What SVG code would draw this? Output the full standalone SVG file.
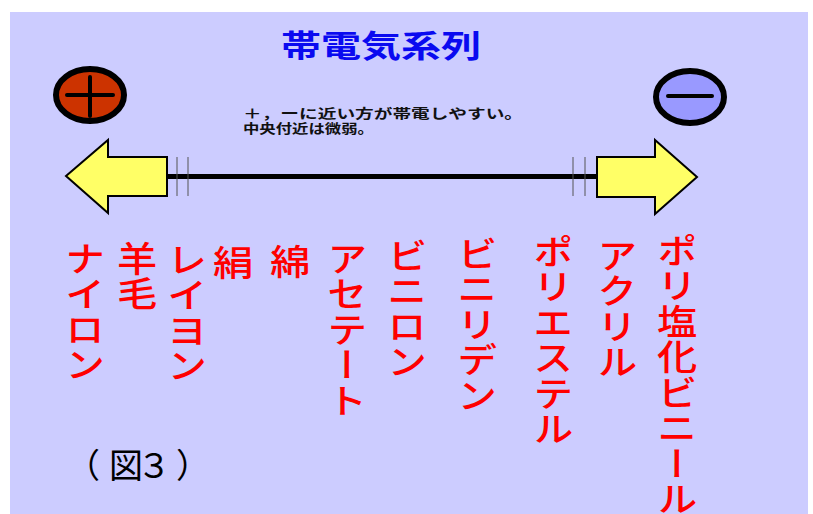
<svg xmlns="http://www.w3.org/2000/svg" width="813" height="514" viewBox="0 0 813 514">
<style>
.bg{fill:#CCCCFF}
.title{font-family:"Noto Sans CJK JP",sans-serif;font-weight:bold;font-size:31px;fill:#0A0AF0}
.note{font-family:"Noto Sans CJK JP",sans-serif;font-weight:bold;font-size:13px;fill:#111}
.mat{font-family:"Noto Sans CJK JP",sans-serif;font-weight:500;font-size:35px;letter-spacing:0.5px;fill:#FF0000;writing-mode:vertical-rl}
.fig{font-family:"Noto Sans CJK JP",sans-serif;font-size:34px;fill:#000}
.arrow{fill:#FFFF66;stroke:#000;stroke-width:2;stroke-linejoin:miter}
.tick{stroke:#555;stroke-width:1}
.sign{stroke:#000;stroke-width:6}
.mark{stroke:#000;stroke-width:4;stroke-linecap:round}
</style>
<rect class="bg" x="10" y="12" width="798" height="502"/>
<g id="title"><text class="title" x="381" y="57" text-anchor="middle" textLength="200" lengthAdjust="spacingAndGlyphs">帯電気系列</text></g>
<g id="plus">
<ellipse class="sign" cx="90" cy="95" rx="34" ry="26" fill="#CC3300"/>
<line class="mark" x1="67" y1="95" x2="113" y2="95"/>
<line class="mark" x1="90" y1="77" x2="90" y2="116"/>
</g>
<g id="minus">
<ellipse class="sign" cx="690" cy="97" rx="34" ry="26" fill="#9999FF"/>
<line class="mark" x1="668" y1="96" x2="712" y2="96"/>
</g>
<g id="note">
<text class="note" x="243" y="118" textLength="280" lengthAdjust="spacingAndGlyphs">＋，ーに近い方が帯電しやすい。</text>
<text class="note" x="243" y="133" textLength="131" lengthAdjust="spacingAndGlyphs">中央付近は微弱。</text>
</g>
<g id="connectors">
<line x1="166" y1="176.5" x2="598" y2="176.5" stroke="#000" stroke-width="5"/>
<line class="tick" x1="177" y1="157" x2="177" y2="196"/>
<line class="tick" x1="188" y1="157" x2="188" y2="196"/>
<line class="tick" x1="573" y1="157" x2="573" y2="196"/>
<line class="tick" x1="585" y1="157" x2="585" y2="196"/>
</g>
<g id="left-arrow"><polygon class="arrow" points="66,176 108,140 108,157 167,157 167,196 108,196 108,213"/></g>
<g id="right-arrow"><polygon class="arrow" points="697,177 655,140 655,157 597,157 597,197 655,197 655,214"/></g>
<g id="nylon" transform="translate(85,241) scale(1.15,1)"><text class="mat" x="0" y="0">ナイロン</text></g>
<g id="wool" transform="translate(137,241) scale(1.15,1)"><text class="mat" x="0" y="0">羊毛</text></g>
<g id="rayon" transform="translate(187,242) scale(1.15,1)"><text class="mat" x="0" y="0">レイヨン</text></g>
<g id="silk" transform="translate(233,245) scale(1.15,1)"><text class="mat" x="0" y="0">絹</text></g>
<g id="cotton" transform="translate(290,244) scale(1.15,1)"><text class="mat" x="0" y="0">綿</text></g>
<g id="acetate" transform="translate(347,241) scale(1.15,1)"><text class="mat" x="0" y="0">アセテート</text></g>
<g id="vinylon" transform="translate(407,238) scale(1.15,1)"><text class="mat" x="0" y="0">ビニロン</text></g>
<g id="vinylidene" transform="translate(477,236) scale(1.15,1)"><text class="mat" x="0" y="0">ビニリデン</text></g>
<g id="polyester" transform="translate(553,234) scale(1.15,1)"><text class="mat" x="0" y="0">ポリエステル</text></g>
<g id="acrylic" transform="translate(617,238) scale(1.15,1)"><text class="mat" x="0" y="0">アクリル</text></g>
<g id="pvc" transform="translate(677,233) scale(1.15,1)"><text class="mat" x="0" y="0">ポリ塩化ビニール</text></g>
<g id="caption"><text class="fig" x="66 109 137 176" y="478">（図３）</text></g>
</svg>
